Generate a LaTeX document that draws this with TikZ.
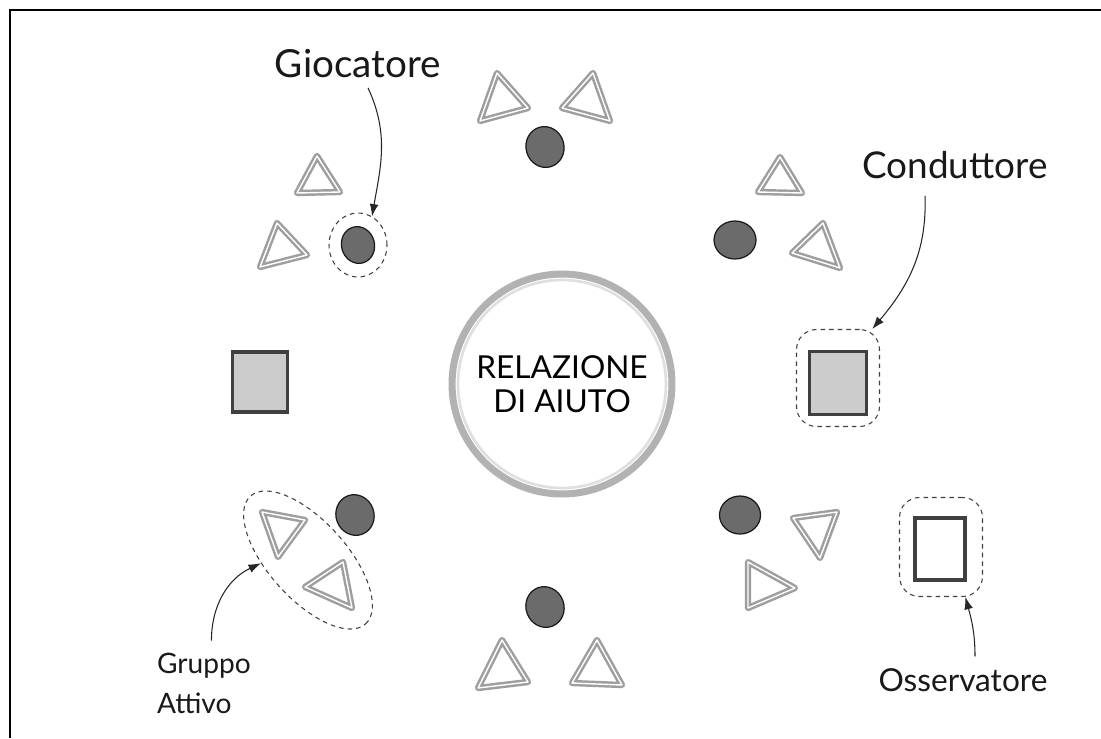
\documentclass[tikz,border=0pt]{standalone}
\usepackage{fontspec}
\setmainfont{Lato}
\usetikzlibrary{shapes.geometric,arrows.meta,calc}
\definecolor{ballfill}{gray}{0.42}
\definecolor{tricol}{gray}{0.62}
\definecolor{sqfill}{gray}{0.80}
\begin{document}
\begin{tikzpicture}[x=0.02cm,y=-0.02cm,
  tri/.style={draw=tricol, double=white, double distance=0.8pt, line width=1.4pt, line join=round},
  ball/.style={ellipse, draw=black!90, line width=0.7pt, fill=ballfill, minimum width=0.76cm, minimum height=0.82cm, inner sep=0pt},
  lead/.style={rectangle, draw=black!75, line width=1.8pt, fill=sqfill, inner sep=0pt},
  obs/.style={rectangle, draw=black!75, line width=1.8pt, fill=white, inner sep=0pt},
  dashbox/.style={draw=black!75, dash pattern=on 2.6pt off 2.3pt, line width=0.6pt, inner sep=0pt},
  arr/.style={-{Latex[length=7pt,width=5pt]}, line width=0.6pt, draw=black!85},
  lbl/.style={inner sep=1pt, text=black!90}
]
\useasboundingbox (0,0) rectangle (1101,738);
\fill[white] (0,0) rectangle (1101,738);
\draw[line width=1.7pt] (10,738) -- (10,10) -- (1101,10);

% centre
\node[circle, draw=gray!60, line width=4pt, fill=white, minimum size=4.4cm,
      align=center, font=\fontsize{18}{19.5}\selectfont] (rel) at (562,384) {RELAZIONE\\DI AIUTO};
\draw[gray!25, line width=1.5pt] (rel.center) circle[radius=104];

% top group
\draw[tri] (497,73) -- (528,108) -- (480,121) -- cycle;
\draw[tri] (593,73) -- (562,108) -- (610,121) -- cycle;
\node[ball, rotate=15] (b1) at (545,147) {};

% upper left
\draw[tri] (317,156) -- (340,192) -- (297,193) -- cycle;
\draw[tri] (277,223) -- (307,255) -- (260,267) -- cycle;
\node[ball, minimum width=0.66cm, minimum height=0.74cm, rotate=15] (b2) at (358,245) {};
\node[ellipse, dashbox, minimum width=1.16cm, minimum height=1.28cm] (gdash) at (358,245) {};

% upper right
\draw[tri] (780,157) -- (802,193) -- (758,192) -- cycle;
\draw[tri] (823,223) -- (840,268) -- (792,253) -- cycle;
\node[ball, minimum width=0.84cm, minimum height=0.76cm] (b3) at (735,240) {};

% squares
\node[lead, minimum width=1.1cm, minimum height=1.2cm] (sqL) at (260,382) {};
\node[lead, minimum width=1.14cm, minimum height=1.26cm] (sqR) at (838,383) {};
\node[rectangle, rounded corners=0.4cm, dashbox, minimum width=1.66cm, minimum height=1.94cm] (cdash) at (838,378) {};

% lower left
\draw[tri] (262,512) -- (305,520) -- (278,557) -- cycle;
\draw[tri] (343,562) -- (352,608) -- (305,587) -- cycle;
\node[ball, rotate=20] (b4) at (355,515) {};
\node[ellipse, dashbox, minimum width=3.44cm, minimum height=1.56cm, rotate=-48] (gadash) at (308,560) {};

% lower right
\node[ball, minimum width=0.82cm, minimum height=0.76cm] (b5) at (740,515) {};
\draw[tri] (793,518) -- (837,512) -- (820,558) -- cycle;
\draw[tri] (748,562) -- (795,588) -- (748,608) -- cycle;
\node[obs, minimum width=1.0cm, minimum height=1.24cm] (sqO) at (940,549) {};
\node[rectangle, rounded corners=0.4cm, dashbox, minimum width=1.66cm, minimum height=1.98cm] (odash) at (941,547) {};

% bottom
\node[ball, rotate=20] (b6) at (545,607) {};
\draw[tri] (502,640) -- (528,682) -- (478,688) -- cycle;
\draw[tri] (597,640) -- (622,685) -- (572,683) -- cycle;

% labels
\node[lbl, font=\fontsize{22}{26}\selectfont] (lblG) at (358,64) {Giocatore};
\node[lbl, font=\fontsize{21}{25}\selectfont] (lblC) at (955,165) {Conduttore};
\node[lbl, font=\fontsize{18}{22}\selectfont] (lblO) at (963,680) {Osservatore};
\node[lbl, font=\fontsize{16}{22.7}\selectfont, align=left, anchor=west] (lblGA) at (155,683) {Gruppo\\Attivo};

% arrows
\draw[arr] ([xshift=0.2cm,yshift=-0.15cm]lblG.south) to[out=-65,in=80] (gdash.64);
\draw[arr] ([xshift=-0.6cm,yshift=-0.3cm]lblC.south) to[out=-88,in=50] (cdash.55);
\draw[arr] ([xshift=0.15cm,yshift=0.2cm]lblGA.north) to[out=90,in=205] (gadash.232);
\draw[arr] ([xshift=0.24cm,yshift=0.2cm]lblO.north) to[out=90,in=-75] (odash.-64);
\end{tikzpicture}
\end{document}
